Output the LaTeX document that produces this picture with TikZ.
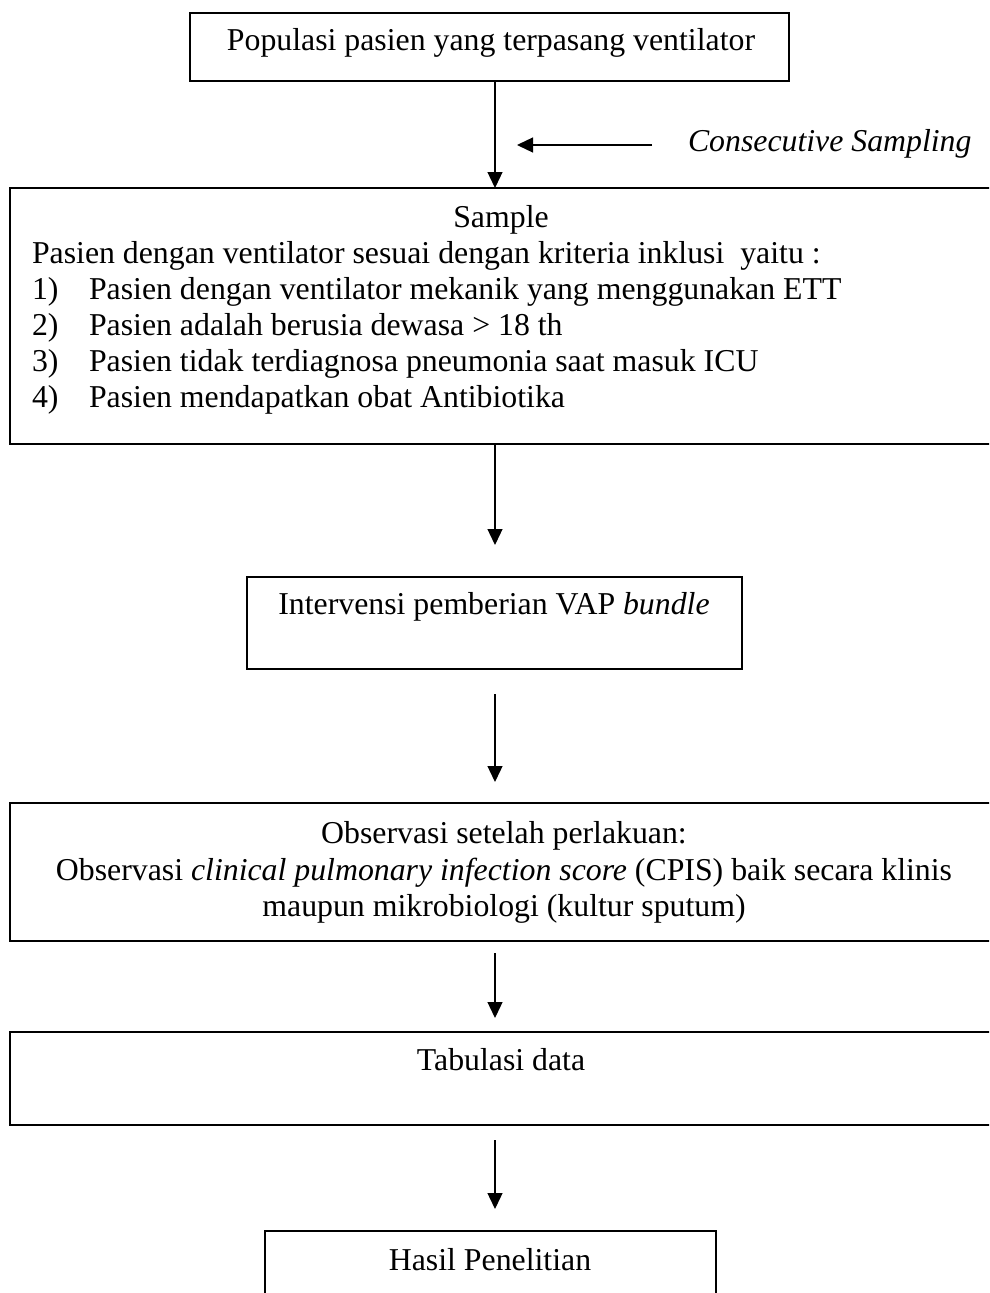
\documentclass[tikz,border=0pt]{standalone}
\usepackage{fontspec}
\setmainfont{Liberation Serif}
\usetikzlibrary{arrows.meta}
\begin{document}
\begin{tikzpicture}[x=1pt,y=-1pt,
  box/.style={draw, line width=1.6pt, inner sep=0pt, outer sep=0pt, anchor=north west},
  txt/.style={inner sep=0pt, outer sep=0pt, font=\fontsize{31.8}{36.8}\selectfont},
  arr/.style={line width=1.3pt, -{Triangle[length=16pt,width=15pt]}}]
\useasboundingbox (0,0) rectangle (989,1293);
\clip (0,0) rectangle (989,1293);

% frames of the flow steps
\node[box, minimum width=599pt, minimum height=68pt]  (pop)    at (190,13)   {};
\node[box, minimum width=985pt, minimum height=256pt] (sample) at (10,188)   {};
\node[box, minimum width=495pt, minimum height=92pt]  (interv) at (247,577)  {};
\node[box, minimum width=985pt, minimum height=138pt] (obs)    at (10,803)   {};
\node[box, minimum width=985pt, minimum height=93pt]  (tab)    at (10,1032)  {};
\node[box, minimum width=451pt, minimum height=100pt] (hasil)  at (265,1231) {};

% texts
\node[txt, anchor=base] (tpop) at (491,50) {Populasi pasien yang terpasang ventilator};
\node[txt, anchor=base west] (tcs) at (688,151) {\itshape Consecutive Sampling};

\node[txt, anchor=base] (tsample) at (501,227) {Sample};
\node[txt, anchor=base west] (tcrit) at (32,263) {Pasien dengan ventilator sesuai dengan kriteria inklusi \ yaitu :};
\node[txt, anchor=base west] (n1) at (32,299) {1)};
\node[txt, anchor=base west] (i1) at (89,299) {Pasien dengan ventilator mekanik yang menggunakan ETT};
\node[txt, anchor=base west] (n2) at (32,335) {2)};
\node[txt, anchor=base west] (i2) at (89,335) {Pasien adalah berusia dewasa > 18 th};
\node[txt, anchor=base west] (n3) at (32,371) {3)};
\node[txt, anchor=base west] (i3) at (89,371) {Pasien tidak terdiagnosa pneumonia saat masuk ICU};
\node[txt, anchor=base west] (n4) at (32,407) {4)};
\node[txt, anchor=base west] (i4) at (89,407) {Pasien mendapatkan obat Antibiotika};

\node[txt, anchor=base] (tinterv) at (494,614) {Intervensi pemberian VAP \textit{bundle}};

\node[txt, anchor=base] (tobs1) at (504,843) {Observasi setelah perlakuan:};
\node[txt, anchor=base] (tobs2) at (504,880) {Observasi \textit{clinical pulmonary infection score} (CPIS) baik secara klinis};
\node[txt, anchor=base] (tobs3) at (504,916) {maupun mikrobiologi (kultur sputum)};

\node[txt, anchor=base] (ttab) at (501,1070) {Tabulasi data};
\node[txt, anchor=base] (thasil) at (490,1270) {Hasil Penelitian};

% connectors
\coordinate (ax) at (495,0);
\coordinate (cs0) at (652,145);
\coordinate (cs1) at (517,145);
\coordinate (e2) at (495,545);
\coordinate (s3) at (495,694);
\coordinate (e3) at (495,782);
\coordinate (s4) at (495,953);
\coordinate (e4) at (495,1018);
\coordinate (s5) at (495,1140);
\coordinate (e5) at (495,1209);

\draw[arr] (pop.south -| ax) -- (sample.north -| ax);
\draw[arr] (cs0) -- (cs1);
\draw[arr] (sample.south -| ax) -- (e2);
\draw[arr] (s3) -- (e3);
\draw[arr] (s4) -- (e4);
\draw[arr] (s5) -- (e5);
\end{tikzpicture}
\end{document}
